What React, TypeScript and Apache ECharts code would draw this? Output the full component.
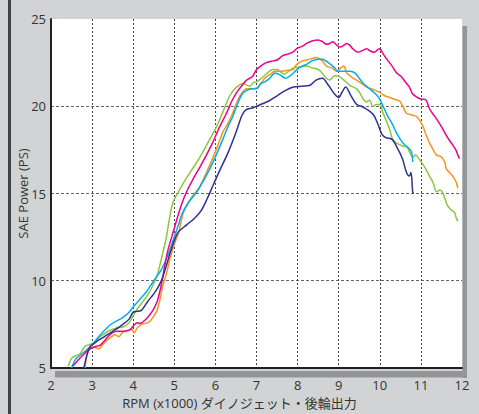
import React, { useEffect, useRef } from "react";
import * as echarts from "echarts";

const xTicks = { min: 2, max: 12, interval: 1 };
const yTicks = { min: 5, max: 25, interval: 5 };

const navyData: number[][] = [
  [2.8, 5.0], [2.88, 5.8], [2.95, 6.2], [3.1, 6.5], [3.3, 6.8], [3.5, 7.1], [3.75, 7.5], [3.9, 7.8],
  [4.0, 8.2], [4.1, 8.25], [4.2, 8.3], [4.35, 8.8], [4.5, 9.25], [4.6, 9.6], [4.7, 10.1], [4.8, 10.8],
  [4.9, 11.6], [5.0, 12.3], [5.1, 12.8], [5.3, 13.2], [5.5, 13.6], [5.65, 14.0], [5.8, 14.7], [5.95, 15.5],
  [6.1, 16.3], [6.3, 17.3], [6.5, 18.5], [6.65, 19.5], [6.75, 19.8], [6.9, 19.9], [7.1, 20.1], [7.3, 20.3],
  [7.5, 20.6], [7.7, 20.9], [7.9, 21.1], [8.1, 21.15], [8.3, 21.2], [8.45, 21.5], [8.6, 21.6], [8.75, 21.2],
  [8.9, 20.7], [9.0, 20.5], [9.08, 20.8], [9.17, 21.1], [9.3, 20.6], [9.44, 20.1], [9.55, 20.0], [9.7, 19.8],
  [9.85, 19.5], [9.95, 19.0], [10.05, 18.4], [10.15, 18.2], [10.3, 18.1], [10.45, 17.5], [10.55, 17.0],
  [10.65, 16.2], [10.72, 16.0], [10.76, 16.2], [10.8, 15.1], [10.82, 15.0],
];

const cyanData: number[][] = [
  [2.5, 5.0], [2.6, 5.5], [2.8, 5.9], [3.0, 6.35], [3.2, 6.9], [3.43, 7.45], [3.6, 7.7], [3.75, 7.9],
  [3.9, 8.2], [4.0, 8.5], [4.15, 8.9], [4.33, 9.4], [4.5, 10.0], [4.7, 10.7], [4.85, 11.5], [4.97, 12.3],
  [5.1, 13.2], [5.2, 13.9], [5.35, 14.5], [5.55, 15.1], [5.7, 15.7], [5.86, 16.4], [6.0, 17.1], [6.18, 18.1],
  [6.3, 18.8], [6.42, 19.4], [6.55, 20.2], [6.65, 20.7], [6.75, 20.9], [6.9, 21.0], [7.0, 21.0], [7.1, 21.3],
  [7.2, 21.4], [7.32, 21.6], [7.45, 21.9], [7.57, 21.8], [7.7, 21.6], [7.85, 21.8], [7.98, 22.1], [8.1, 22.3],
  [8.22, 22.4], [8.35, 22.6], [8.5, 22.7], [8.6, 22.7], [8.75, 22.5], [8.9, 22.2], [8.98, 22.0], [9.1, 22.0],
  [9.27, 22.0], [9.4, 21.9], [9.5, 21.6], [9.6, 21.3], [9.75, 21.0], [9.9, 20.7], [10.0, 20.4], [10.1, 19.9],
  [10.2, 19.4], [10.3, 19.0], [10.4, 18.5], [10.5, 18.1], [10.6, 17.8], [10.7, 17.6], [10.77, 17.4], [10.8, 16.8],
];

const orangeData: number[][] = [
  [2.83, 5.0], [2.88, 5.8], [2.95, 6.1], [3.05, 6.2], [3.15, 6.1], [3.3, 6.45], [3.45, 6.75], [3.56, 6.9],
  [3.65, 6.8], [3.75, 7.05], [3.9, 7.15], [3.97, 7.2], [4.02, 7.0], [4.1, 7.3], [4.2, 7.5], [4.36, 7.6],
  [4.45, 7.8], [4.58, 8.3], [4.65, 8.9], [4.72, 9.7], [4.82, 10.5], [4.9, 11.3], [5.0, 12.1], [5.1, 12.7],
  [5.22, 13.9], [5.4, 14.7], [5.62, 15.4], [5.8, 16.3], [5.93, 17.0], [6.05, 17.7], [6.18, 18.5], [6.3, 19.0],
  [6.42, 19.6], [6.52, 20.2], [6.6, 20.6], [6.76, 21.0], [6.9, 21.0], [7.0, 21.05], [7.08, 21.2], [7.2, 21.6],
  [7.32, 21.8], [7.45, 22.0], [7.6, 22.0], [7.73, 22.05], [7.88, 22.1], [7.98, 22.4], [8.12, 22.6], [8.3, 22.7],
  [8.46, 22.8], [8.6, 22.6], [8.7, 22.3], [8.83, 22.2], [8.95, 22.0], [9.05, 22.2], [9.12, 22.3], [9.2, 21.9],
  [9.3, 21.7], [9.5, 21.4], [9.68, 21.1], [9.85, 20.95], [10.0, 20.8], [10.12, 20.6], [10.24, 20.5],
  [10.35, 20.4], [10.48, 20.3], [10.58, 19.9], [10.65, 19.6], [10.78, 19.5], [10.9, 19.4], [11.04, 18.9],
  [11.12, 18.4], [11.21, 17.9], [11.3, 17.5], [11.38, 17.2], [11.5, 17.1], [11.58, 16.8], [11.62, 16.4],
  [11.7, 16.2], [11.77, 16.0], [11.85, 15.7], [11.9, 15.3],
];

const greenData: number[][] = [
  [2.42, 5.1], [2.5, 5.55], [2.6, 5.7], [2.7, 5.8], [2.83, 6.25], [2.95, 6.35], [3.05, 6.45], [3.2, 6.8],
  [3.43, 7.15], [3.6, 7.3], [3.75, 7.35], [3.9, 7.6], [4.0, 8.0], [4.09, 8.35], [4.2, 8.7], [4.33, 9.1],
  [4.45, 9.6], [4.58, 10.3], [4.66, 11.0], [4.73, 11.7], [4.8, 12.4], [4.9, 13.8], [4.97, 14.5], [5.1, 15.1],
  [5.22, 15.6], [5.38, 16.2], [5.55, 16.8], [5.7, 17.4], [5.86, 18.1], [6.0, 18.7], [6.1, 19.2], [6.22, 19.9],
  [6.35, 20.6], [6.45, 20.95], [6.55, 21.15], [6.67, 21.3], [6.78, 21.2], [6.84, 21.15], [6.92, 21.35],
  [7.0, 21.4], [7.12, 21.6], [7.24, 21.85], [7.4, 22.1], [7.5, 22.1], [7.57, 22.0], [7.68, 21.85], [7.78, 22.0],
  [7.9, 22.2], [8.05, 22.25], [8.22, 22.3], [8.35, 22.2], [8.46, 22.15], [8.56, 22.0], [8.7, 21.6], [8.78, 21.5],
  [8.9, 21.75], [9.02, 21.7], [9.15, 21.45], [9.27, 21.2], [9.44, 21.0], [9.53, 20.7], [9.6, 20.4],
  [9.68, 20.25], [9.75, 20.35], [9.83, 20.0], [9.92, 20.1], [10.0, 20.1], [10.08, 19.6], [10.17, 19.1],
  [10.25, 18.6], [10.31, 18.1], [10.4, 17.9], [10.48, 17.8], [10.58, 17.7], [10.65, 17.7], [10.72, 17.4],
  [10.8, 17.1], [10.88, 17.2], [10.92, 17.1], [11.04, 16.7], [11.12, 16.4], [11.21, 16.0], [11.3, 15.6],
  [11.38, 15.1], [11.46, 15.2], [11.53, 15.05], [11.6, 14.6], [11.65, 14.3], [11.72, 14.1], [11.77, 14.0],
  [11.82, 13.9], [11.86, 13.6], [11.9, 13.4],
];

const magentaData: number[][] = [
  [2.53, 5.1], [2.62, 5.35], [2.7, 5.55], [2.85, 5.9], [2.95, 6.1], [3.1, 6.25], [3.19, 6.3], [3.3, 6.55],
  [3.43, 6.9], [3.6, 7.1], [3.75, 7.1], [3.92, 7.2], [4.0, 7.4], [4.09, 7.6], [4.16, 7.55], [4.24, 7.65],
  [4.35, 7.9], [4.48, 8.3], [4.58, 8.8], [4.65, 9.4], [4.72, 10.2], [4.77, 10.9], [4.85, 11.8], [4.95, 12.6],
  [5.06, 13.5], [5.18, 14.4], [5.3, 15.1], [5.45, 15.8], [5.62, 16.5], [5.78, 17.2], [5.93, 17.9], [6.1, 18.8],
  [6.27, 19.6], [6.4, 20.3], [6.52, 20.8], [6.65, 21.2], [6.76, 21.5], [6.9, 21.7], [7.0, 22.1], [7.1, 22.3],
  [7.24, 22.5], [7.4, 22.6], [7.5, 22.65], [7.64, 22.9], [7.78, 23.0], [7.88, 23.1], [7.98, 23.3], [8.12, 23.45],
  [8.22, 23.6], [8.37, 23.75], [8.5, 23.8], [8.61, 23.7], [8.7, 23.55], [8.78, 23.6], [8.86, 23.7], [8.95, 23.5],
  [9.02, 23.4], [9.1, 23.45], [9.19, 23.6], [9.27, 23.5], [9.34, 23.3], [9.46, 23.1], [9.59, 23.2], [9.68, 23.3],
  [9.78, 23.15], [9.87, 23.1], [9.95, 23.25], [10.0, 23.3], [10.08, 23.0], [10.17, 22.7], [10.3, 22.3],
  [10.41, 21.9], [10.52, 21.7], [10.65, 21.3], [10.72, 21.1], [10.8, 20.7], [10.92, 20.5], [11.02, 20.4],
  [11.08, 20.4], [11.14, 20.3], [11.2, 19.9], [11.28, 19.6], [11.4, 19.2], [11.53, 18.7], [11.65, 18.2],
  [11.77, 17.8], [11.85, 17.5], [11.9, 17.2], [11.94, 17.0],
];

const seriesList = [
  { name: "green", color: "#8dc63f", data: greenData },
  { name: "orange", color: "#f7941d", data: orangeData },
  { name: "cyan", color: "#00aeef", data: cyanData },
  { name: "magenta", color: "#ec008c", data: magentaData },
  { name: "navy", color: "#2e3192", data: navyData },
];

const xAxisTitle = "RPM (x1000) ダイノジェット・後輪出力";
const yAxisTitle = "SAE Power (PS)";

const FONT = "'Open Sans', 'Noto Sans CJK JP', sans-serif";

export default function App() {
  const ref = useRef<HTMLDivElement>(null);
  useEffect(() => {
    if (!ref.current) return;
    const chart = echarts.init(ref.current, undefined, { renderer: "svg" });
    chart.setOption({
      animation: false,
      backgroundColor: "#d1d3d4",
      textStyle: { fontFamily: FONT },
      grid: {
        left: 51,
        right: 17,
        top: 19,
        bottom: 44,
        show: true,
        backgroundColor: "#ffffff",
        borderWidth: 0,
      },
      graphic: [
        { type: "rect", shape: { x: 8, y: 0, width: 3, height: 414 }, style: { fill: "#414042" }, z: 0 },
        { type: "rect", shape: { x: 462.5, y: 26, width: 4.5, height: 352 }, style: { fill: "#939598" }, z: 0 },
        { type: "rect", shape: { x: 55, y: 371, width: 412, height: 6.5 }, style: { fill: "#939598" }, z: 0 },
      ],
      xAxis: {
        type: "value",
        min: xTicks.min,
        max: xTicks.max,
        interval: xTicks.interval,
        name: xAxisTitle,
        nameLocation: "middle",
        nameGap: 28,
        nameMoveOverlap: false,
        nameTextStyle: { color: "#333333", fontSize: 13, fontFamily: FONT, padding: [0, 34, 0, 0] },
        axisLine: { show: true, lineStyle: { color: "#231f20", width: 2 } },
        axisTick: { show: false },
        axisLabel: { color: "#333333", fontSize: 13, margin: 10, fontFamily: FONT },
        splitLine: {
          show: true,
          showMinLine: false,
          showMaxLine: false,
          lineStyle: { color: "#444444", type: [2, 2], width: 1 },
        },
      },
      yAxis: {
        type: "value",
        min: yTicks.min,
        max: yTicks.max,
        interval: yTicks.interval,
        name: yAxisTitle,
        nameLocation: "middle",
        nameGap: 22,
        nameMoveOverlap: false,
        nameTextStyle: { color: "#333333", fontSize: 13, fontFamily: FONT },
        axisLine: { show: true, lineStyle: { color: "#231f20", width: 2 } },
        axisTick: { show: false },
        axisLabel: { color: "#333333", fontSize: 13, margin: 5, fontFamily: FONT },
        splitLine: {
          show: true,
          showMinLine: false,
          showMaxLine: false,
          lineStyle: { color: "#666666", type: [3, 2], width: 1.2 },
        },
      },
      series: seriesList.map((s) => ({
        name: s.name,
        type: "line",
        data: s.data,
        showSymbol: false,
        symbol: "none",
        smooth: 0.3,
        lineStyle: { color: s.color, width: 1.5 },
        itemStyle: { color: s.color },
        z: 3,
      })),
    });
    return () => chart.dispose();
  }, []);
  return (
    <div
      ref={ref}
      style={{ position: "fixed", left: 0, top: 0, width: 479, height: 414 }}
    />
  );
}
